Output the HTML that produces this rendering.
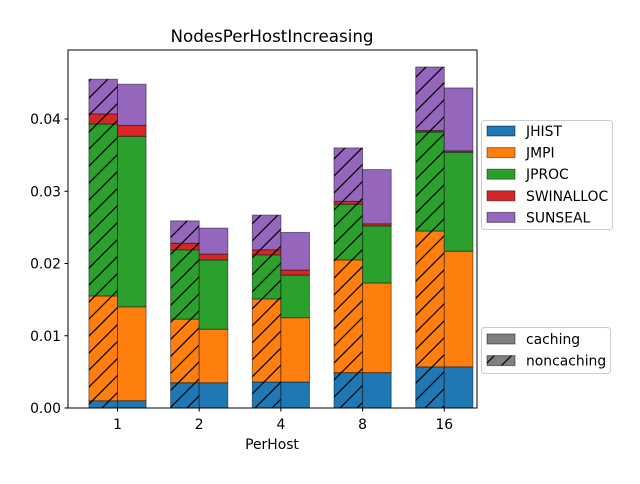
<!DOCTYPE html>
<html><head><meta charset="utf-8"><style>
body{margin:0;background:#fff;font-family:"DejaVu Sans","Liberation Sans",sans-serif}
</style></head><body>
<svg id="chart" width="640" height="480" xmlns="http://www.w3.org/2000/svg" font-family="DejaVu Sans, Liberation Sans, sans-serif">
<defs>
<pattern id="hatch" patternUnits="userSpaceOnUse" width="17" height="17">
<path d="M-2,19 L19,-2 M-2,2 L2,-2 M15,19 L19,15" stroke="#000" stroke-width="1.2"/>
</pattern>
</defs>
<rect width="640" height="480" fill="#fff"/>
<g id="bars"></g>
<rect x="68" y="50" width="409" height="358" fill="none" stroke="#000" stroke-width="1"/>
<g id="axes" font-size="13.9"></g>
<text x="272" y="42" text-anchor="middle" font-size="16.7">NodesPerHostIncreasing</text>
<text x="272" y="449" text-anchor="middle" font-size="13.9">PerHost</text>
<g id="legend" font-size="13.9"></g>
</svg>
<script>
const categories = ["1","2","4","8","16"];
const seriesNames = ["JHIST","JMPI","JPROC","SWINALLOC","SUNSEAL"];
const colors = ["#1f77b4","#ff7f0e","#2ca02c","#d62728","#9467bd"];
// noncaching (hatched) segment values per category
const ncJHIST = [0.00101,0.0035,0.0036,0.0049,0.0057];
const ncJMPI = [0.0145,0.0088,0.0115,0.0156,0.0188];
const ncJPROC = [0.0238,0.0096,0.0061,0.0077,0.0137];
const ncSWINALLOC = [0.0014,0.0009,0.0007,0.0004,0.0002];
const ncSUNSEAL = [0.0048,0.0031,0.0048,0.0074,0.0088];
// caching segment values per category
const cJHIST = [0.00101,0.0035,0.0036,0.0049,0.0057];
const cJMPI = [0.0130,0.0074,0.0089,0.0124,0.0160];
const cJPROC = [0.0236,0.0096,0.0059,0.0079,0.0137];
const cSWINALLOC = [0.0015,0.0008,0.0007,0.0003,0.0002];
const cSUNSEAL = [0.0057,0.0036,0.0052,0.0075,0.0087];
const yTicks = [0,0.01,0.02,0.03,0.04];
const yTickLabels = ["0.00","0.01","0.02","0.03","0.04"];

const NS="http://www.w3.org/2000/svg";
const y0=408, pxPer=7225;
function yScale(v){return y0 - v*pxPer;}
function xCenter(i){return 117.5 + i*81.7;}
const bw=28.6;
const bars=document.getElementById('bars');
function mk(tag,attrs,parent){const e=document.createElementNS(NS,tag);for(const k in attrs)e.setAttribute(k,attrs[k]);parent.appendChild(e);return e;}
const ncSeries=[ncJHIST,ncJMPI,ncJPROC,ncSWINALLOC,ncSUNSEAL];
const cSeries=[cJHIST,cJMPI,cJPROC,cSWINALLOC,cSUNSEAL];
categories.forEach((c,i)=>{
  [[ncSeries,true,-bw],[cSeries,false,0]].forEach(([ser,hatched,off])=>{
    let cum=0;
    ser.forEach((arr,s)=>{
      const v=arr[i];
      const yt=yScale(cum+v), yb=yScale(cum);
      const r=mk('rect',{x:xCenter(i)+off,y:yt,width:bw,height:Math.max(0,yb-yt),fill:colors[s],stroke:'rgba(0,0,0,0.45)','stroke-width':1},bars);
      
      
      if(hatched){
        const h=mk('rect',{x:xCenter(i)+off,y:yt,width:bw,height:Math.max(0,yb-yt),fill:'url(#hatch)'},bars);
        
        
      }
      cum+=v;
    });
  });
});
const axes=document.getElementById('axes');
yTicks.forEach((t,k)=>{
  const y=yScale(t);
  const l=mk('line',{x1:64.5,x2:68,y1:y,y2:y,stroke:'#000'},axes);
  
  
  const tx=mk('text',{x:61,y:y+5,'text-anchor':'end'},axes);
  tx.textContent=yTickLabels[k];
  
  
});
categories.forEach((c,i)=>{
  const x=xCenter(i);
  const l=mk('line',{x1:x,x2:x,y1:408,y2:411.5,stroke:'#000'},axes);
  
  
  const tx=mk('text',{x:x,y:429,'text-anchor':'middle'},axes);
  tx.textContent=c;
  
  
});
const lg=document.getElementById('legend');
const box1=mk('rect',{x:481.5,y:120.5,width:131,height:109,rx:3,fill:'#fff',stroke:'#ccc'},lg);


seriesNames.forEach((n,s)=>{
  const y=126+s*21.6;
  const r=mk('rect',{x:487,y:y,width:28,height:10,fill:colors[s],stroke:'rgba(0,0,0,0.45)'},lg);
  
  
  const t=mk('text',{x:526,y:y+10},lg);
  t.textContent=n;
  
  
});
const box2=mk('rect',{x:481.5,y:327.5,width:129,height:46,rx:3,fill:'#fff',stroke:'#ccc'},lg);


[["caching",false],["noncaching",true]].forEach(([n,h],k)=>{
  const y=334+k*21.6;
  const r=mk('rect',{x:487,y:y,width:28,height:10,fill:'#808080',stroke:'rgba(0,0,0,0.45)'},lg);
  
  
  if(h){const o=mk('rect',{x:487,y:y,width:28,height:10,fill:'url(#hatch)'},lg);
    
    }
  const t=mk('text',{x:526,y:y+10},lg);
  t.textContent=n;
  
  
});
</script>
</body></html>
